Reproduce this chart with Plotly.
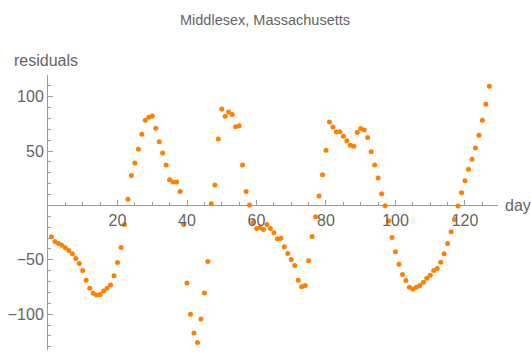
import plotly.graph_objects as go

days = list(range(1, 128))
residuals = [
    -28.9, -33.2, -35.0, -36.6, -39.0, -41.5, -44.5, -48.8, -53.5, -59.9,
    -68.8, -76.2, -80.8, -82.3, -82.0, -78.7, -76.2, -73.1, -64.8, -52.5,
    -38.7, -17.5, 5.8, 27.6, 39.0, 51.6, 65.4, 78.3, 81.1, 82.3,
    71.0, 58.7, 48.2, 37.1, 23.7, 21.5, 21.5, 12.9, -17.5, -71.3,
    -100.2, -117.4, -126.0, -104.5, -80.5, -51.6, 1.5, 18.7, 61.1, 88.8,
    82.0, 86.0, 83.6, 72.5, 73.4, 37.1, 12.9, 0.3, -15.7, -21.2,
    -20.6, -22.1, -17.5, -21.2, -25.2, -30.7, -30.1, -38.1, -44.2, -49.8,
    -55.3, -68.8, -74.7, -73.7, -51.0, -28.6, -10.4, 8.6, 28.3, 50.7,
    76.8, 72.2, 67.9, 67.9, 63.6, 59.6, 55.3, 54.4, 67.3, 70.7,
    69.4, 62.4, 49.5, 37.1, 25.2, 10.8, -0.3, -14.4, -29.5, -42.7,
    -54.1, -63.6, -69.1, -75.3, -76.8, -75.3, -73.7, -70.7, -67.0, -64.2,
    -59.9, -58.1, -52.2, -44.5, -35.0, -24.3, -12.9, -0.6, 11.7, 22.7,
    33.2, 42.4, 52.8, 64.5, 78.3, 93.1, 109.7,
]
x_ticks = [20, 40, 60, 80, 100, 120]
y_ticks = [-100, -50, 50, 100]
y_tick_text = ["\u2212100", "\u221250", "50", "100"]

x_range = [0, 129.5]
y_range = [-133, 120]
x_axis_pos = (0 - y_range[0]) / (y_range[1] - y_range[0])

font = "Liberation Sans, Arial, sans-serif"
text_col = "#646464"
axis_col = "#9a9a9a"

fig = go.Figure()
fig.add_trace(go.Scatter(
    x=days, y=residuals, mode="markers",
    marker=dict(color="rgb(255,128,0)", size=5, line=dict(width=0)),
    showlegend=False, hoverinfo="x+y",
))

fig.update_layout(
    width=531, height=354,
    margin=dict(l=48, r=33, t=75, b=4, autoexpand=False),
    paper_bgcolor="white", plot_bgcolor="white",
    font=dict(family=font, color=text_col, size=16),
    xaxis=dict(
        range=x_range, anchor="free", position=x_axis_pos, automargin=False,
        showgrid=False, zeroline=False, showline=True,
        linecolor=axis_col, linewidth=1,
        tickmode="array", tickvals=x_ticks,
        ticks="inside", ticklen=5, tickcolor=axis_col, tickwidth=1,
        tickfont=dict(size=16, color=text_col, family=font),
        minor=dict(ticks="inside", ticklen=3, tickcolor=axis_col,
                   tickmode="linear", tick0=0, dtick=5, showgrid=False),
    ),
    yaxis=dict(
        range=y_range, automargin=False,
        showgrid=False, zeroline=False, showline=True,
        linecolor=axis_col, linewidth=1,
        tickmode="array", tickvals=y_ticks, ticktext=y_tick_text,
        ticks="inside", ticklen=5, tickcolor=axis_col, tickwidth=1,
        tickfont=dict(size=16, color=text_col, family=font),
        minor=dict(ticks="inside", ticklen=3, tickcolor=axis_col,
                   tickmode="linear", tick0=0, dtick=10, showgrid=False),
    ),
    annotations=[
        dict(text="Middlesex, Massachusetts", xref="paper", yref="paper",
             x=0.5, y=1, xshift=-8, yshift=55, xanchor="center", yanchor="middle",
             showarrow=False, font=dict(size=14.5, color=text_col, family=font)),
        dict(text="residuals", xref="paper", yref="paper", x=0, y=1,
             xshift=-36, yshift=15, xanchor="left", yanchor="middle",
             showarrow=False, font=dict(size=16, color=text_col, family=font)),
        dict(text="day", xref="paper", yref="paper", x=1, y=x_axis_pos,
             xshift=5, xanchor="left", yanchor="middle",
             showarrow=False, font=dict(size=16, color=text_col, family=font)),
    ],
)

fig.write_html(
    "out.html",
    config={"displayModeBar": False},
    post_script="document.body.style.margin='0';document.body.style.overflow='hidden';",
)
